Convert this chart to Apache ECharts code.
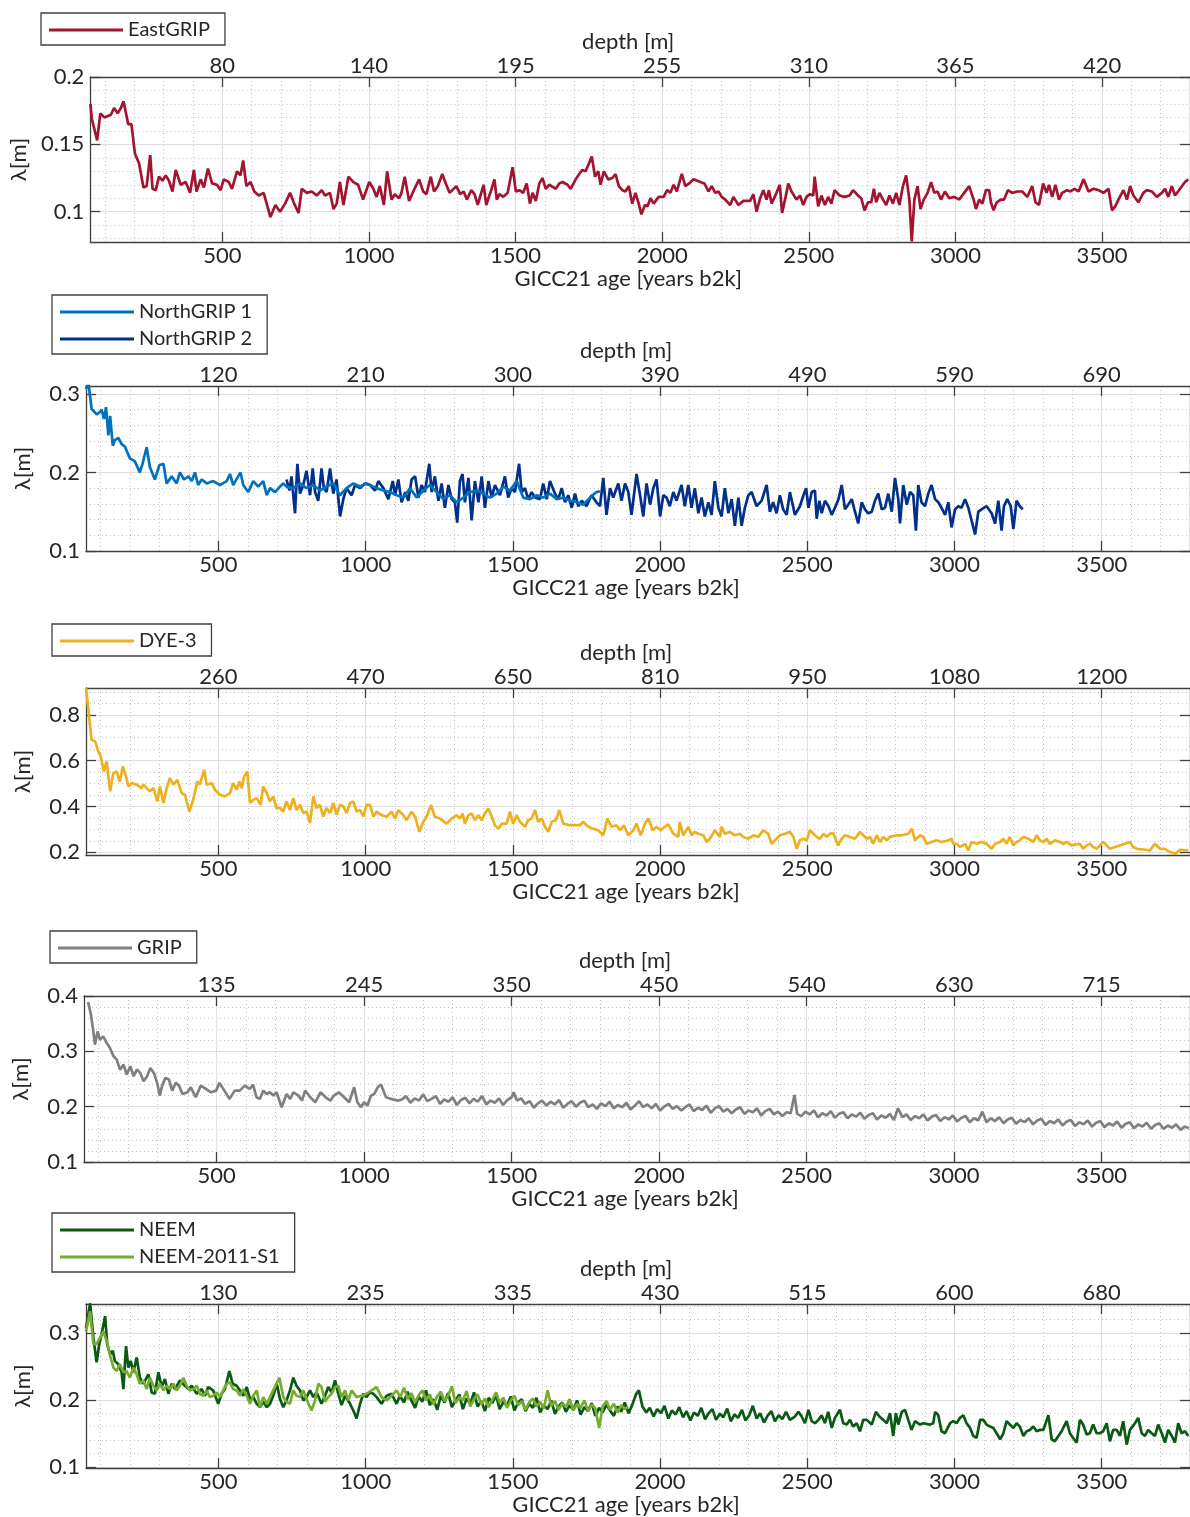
<!DOCTYPE html>
<html>
<head>
<meta charset="utf-8">
<script src="https://cdn.jsdelivr.net/npm/echarts@6/dist/echarts.min.js"></script>
<style>
  html, body { margin: 0; padding: 0; background: #fff; }
  #chart { width: 1190px; height: 1517px; }
</style>
</head>
<body>
<div id="chart"></div>
<script>
// shared age axis (years b2k)
const ageMin = 50
const ageMax = 3800
const ageTicks = [500, 1000, 1500, 2000, 2500, 3000, 3500]
const ageMinor = [100, 200, 300, 400, 600, 700, 800, 900, 1100, 1200, 1300, 1400, 1600, 1700, 1800, 1900,
  2100, 2200, 2300, 2400, 2600, 2700, 2800, 2900, 3100, 3200, 3300, 3400, 3600, 3700, 3800]

// depth labels on the top axis, one per age tick
const depthEastGRIP = ['80', '140', '195', '255', '310', '365', '420']
const depthNorthGRIP = ['120', '210', '300', '390', '490', '590', '690']
const depthDYE3 = ['260', '470', '650', '810', '950', '1080', '1200']
const depthGRIP = ['135', '245', '350', '450', '540', '630', '715']
const depthNEEM = ['130', '235', '335', '430', '515', '600', '680']

// lambda axis ticks
const yTicksEastGRIP = [0.1, 0.15, 0.2]
const yMinorEastGRIP = [0.08, 0.09, 0.11, 0.12, 0.13, 0.14, 0.16, 0.17, 0.18, 0.19]
const yTicksNorthGRIP = [0.1, 0.2, 0.3]
const yMinorNorthGRIP = [0.12, 0.14, 0.16, 0.18, 0.22, 0.24, 0.26, 0.28]
const yTicksDYE3 = [0.2, 0.4, 0.6, 0.8]
const yMinorDYE3 = [0.25, 0.3, 0.35, 0.45, 0.5, 0.55, 0.65, 0.7, 0.75, 0.85, 0.9]
const yTicksGRIP = [0.1, 0.2, 0.3, 0.4]
const yMinorGRIP = [0.12, 0.14, 0.16, 0.18, 0.22, 0.24, 0.26, 0.28, 0.32, 0.34, 0.36, 0.38]
const yTicksNEEM = [0.1, 0.2, 0.3]
const yMinorNEEM = [0.12, 0.14, 0.16, 0.18, 0.22, 0.24, 0.26, 0.28, 0.32, 0.34]

// [age, lambda]
const eastGRIP = [[50,0.180],[55,0.169],[73,0.153],[84,0.173],[98,0.170],[120,0.172],[131,0.177],[143,0.173],[154,0.177],[163,0.182],[179,0.165],[190,0.165],[202,0.143],[216,0.136],[231,0.118],[242,0.119],[254,0.142],[262,0.117],[273,0.116],[284,0.126],[296,0.123],[307,0.127],[318,0.123],[330,0.115],[341,0.131],[358,0.120],[375,0.122],[390,0.114],[403,0.131],[412,0.115],[426,0.124],[437,0.118],[451,0.132],[465,0.121],[482,0.120],[494,0.116],[505,0.124],[522,0.122],[533,0.117],[550,0.130],[562,0.127],[571,0.138],[582,0.119],[596,0.122],[609,0.115],[624,0.112],[641,0.114],[664,0.096],[681,0.105],[697,0.100],[714,0.106],[731,0.114],[745,0.106],[760,0.099],[771,0.117],[788,0.114],[805,0.115],[822,0.112],[839,0.116],[850,0.112],[867,0.114],[879,0.102],[890,0.106],[901,0.122],[913,0.105],[930,0.126],[947,0.122],[963,0.120],[980,0.109],[1001,0.122],
  [1015,0.117],[1026,0.111],[1037,0.119],[1051,0.105],[1062,0.130],[1077,0.109],[1088,0.113],[1103,0.110],[1111,0.114],[1122,0.126],[1137,0.108],[1151,0.115],[1171,0.124],[1185,0.115],[1196,0.113],[1211,0.126],[1222,0.115],[1235,0.119],[1250,0.128],[1262,0.121],[1275,0.114],[1298,0.119],[1311,0.113],[1323,0.115],[1334,0.109],[1349,0.116],[1360,0.113],[1371,0.105],[1391,0.120],[1400,0.105],[1409,0.111],[1417,0.116],[1428,0.124],[1436,0.109],[1445,0.113],[1458,0.111],[1473,0.114],[1490,0.133],[1501,0.115],[1513,0.116],[1526,0.114],[1538,0.121],[1549,0.106],[1558,0.114],[1569,0.108],[1581,0.121],[1592,0.125],[1603,0.117],[1615,0.120],[1637,0.117],[1649,0.121],[1660,0.122],[1677,0.120],[1688,0.117],[1705,0.124],[1717,0.128],[1728,0.131],[1739,0.130],[1760,0.141],[1771,0.126],[1782,0.130],[1790,0.120],[1801,0.130],[1816,0.124],[1830,0.125],[1841,0.128],[1852,0.119],[1864,0.116],[1875,0.115],[1886,0.119],[1898,0.106],[1909,0.114],[1920,0.106],[1929,0.098],[1941,0.105],[1950,0.104],[1960,0.110],[1971,0.106],[1988,0.111],[2005,0.111],[2017,0.116],[2028,0.114],[2039,0.120],[2050,0.115],[2067,0.128],[2079,0.119],[2092,0.121],[2107,0.124],[2130,0.122],[2144,0.121],[2158,0.115],[2169,0.119],[2181,0.114],[2192,0.115],[2203,0.111],[2215,0.109],[2232,0.105],[2243,0.111],[2260,0.105],[2277,0.108],[2300,0.108],[2311,0.113],[2322,0.100],[2334,0.110],[2345,0.116],[2356,0.109],[2364,0.116],[2373,0.106],[2390,0.114],[2401,0.120],[2409,0.099],[2421,0.111],[2430,0.121],
  [2441,0.115],[2458,0.109],[2470,0.112],[2481,0.105],[2492,0.111],[2504,0.113],[2515,0.112],[2520,0.126],[2532,0.104],[2543,0.112],[2555,0.105],[2566,0.111],[2577,0.106],[2588,0.116],[2605,0.112],[2622,0.111],[2639,0.112],[2651,0.116],[2668,0.112],[2679,0.110],[2690,0.101],[2702,0.107],[2713,0.107],[2722,0.117],[2730,0.107],[2741,0.114],[2753,0.109],[2764,0.105],[2775,0.112],[2787,0.106],[2798,0.114],[2809,0.105],[2821,0.119],[2832,0.127],[2843,0.109],[2851,0.078],[2860,0.109],[2871,0.119],[2881,0.102],[2892,0.109],[2905,0.114],[2917,0.122],[2928,0.114],[2939,0.115],[2951,0.109],[2964,0.115],[2979,0.110],[2996,0.111],[3013,0.109],[3030,0.114],[3047,0.119],[3062,0.109],[3070,0.102],[3081,0.109],[3092,0.106],[3104,0.116],[3115,0.116],[3121,0.107],[3130,0.101],[3141,0.107],[3155,0.109],[3166,0.109],[3179,0.116],[3194,0.114],[3211,0.115],[3228,0.115],[3245,0.111],[3262,0.119],[3273,0.107],[3285,0.105],[3299,0.121],[3311,0.114],[3319,0.120],[3330,0.111],[3341,0.120],[3353,0.109],[3364,0.114],[3381,0.116],[3392,0.115],[3406,0.117],[3420,0.115],[3437,0.124],[3454,0.115],[3471,0.117],[3488,0.116],[3505,0.114],[3522,0.117],[3534,0.101],[3545,0.104],[3556,0.109],[3573,0.116],[3585,0.109],[3596,0.119],[3607,0.112],[3624,0.107],[3641,0.114],[3653,0.116],[3670,0.115],[3687,0.111],[3704,0.114],[3715,0.117],[3726,0.111],[3738,0.119],[3749,0.112],[3766,0.117],[3783,0.122],[3794,0.124]]

const northGRIP1 = [[50,0.306],[58,0.315],[69,0.281],[86,0.274],[98,0.277],[103,0.280],[111,0.268],[118,0.283],[126,0.247],[132,0.272],[141,0.234],[148,0.241],[160,0.244],[171,0.236],[182,0.233],[199,0.218],[216,0.214],[233,0.200],[242,0.211],[256,0.232],[267,0.207],[284,0.191],[299,0.209],[313,0.211],[324,0.186],[341,0.195],[358,0.186],[369,0.200],[383,0.191],[398,0.195],[409,0.189],[420,0.200],[431,0.184],[443,0.191],[460,0.186],[482,0.189],[505,0.184],[528,0.189],[539,0.198],[550,0.184],[564,0.193],[575,0.200],[584,0.184],[601,0.175],[618,0.189],[635,0.182],[652,0.189],[664,0.171],[675,0.180],[692,0.175],[709,0.182],[720,0.186],[731,0.182],[754,0.180],[777,0.186],[799,0.180],[822,0.184],[845,0.177],[867,0.182],[890,0.186],[913,0.171],[935,0.180],[958,0.186],[981,0.182],[1003,0.186],
  [1037,0.180],[1060,0.177],[1083,0.175],[1105,0.171],[1128,0.168],[1151,0.180],[1173,0.168],[1196,0.177],[1218,0.184],[1241,0.175],[1264,0.166],[1286,0.171],[1309,0.162],[1332,0.168],[1354,0.175],[1377,0.177],[1400,0.173],[1422,0.168],[1445,0.173],[1468,0.182],[1490,0.177],[1513,0.189],[1535,0.168],[1558,0.166],[1581,0.171],[1603,0.168],[1626,0.173],[1649,0.166],[1671,0.168],[1694,0.164],[1717,0.162],[1739,0.159],[1762,0.168],[1784,0.175],[1796,0.176]]

const northGRIP2 = [[731,0.191],[741,0.177],[748,0.195],[760,0.148],[768,0.211],[777,0.173],[788,0.184],[799,0.202],[811,0.171],[820,0.205],[828,0.175],[839,0.164],[850,0.205],[858,0.180],[867,0.175],[879,0.205],[890,0.173],[901,0.191],[913,0.144],[924,0.166],[935,0.180],[952,0.171],[964,0.184],[981,0.180],[997,0.186],
  [1015,0.184],[1032,0.177],[1043,0.189],[1060,0.180],[1077,0.166],[1092,0.189],[1100,0.171],[1111,0.191],[1122,0.162],[1134,0.175],[1145,0.164],[1156,0.191],[1168,0.195],[1179,0.168],[1190,0.184],[1201,0.175],[1216,0.211],[1224,0.175],[1235,0.195],[1247,0.164],[1258,0.186],[1269,0.155],[1281,0.184],[1292,0.166],[1303,0.162],[1311,0.136],[1320,0.189],[1329,0.198],[1337,0.162],[1349,0.193],[1360,0.139],[1371,0.189],[1383,0.162],[1394,0.195],[1405,0.155],[1417,0.189],[1428,0.168],[1439,0.184],[1456,0.171],[1473,0.195],[1484,0.168],[1496,0.180],[1507,0.175],[1521,0.211],[1530,0.175],[1541,0.180],[1552,0.166],[1564,0.175],[1575,0.168],[1592,0.166],[1603,0.186],[1615,0.166],[1626,0.189],[1643,0.173],[1654,0.166],[1666,0.180],[1677,0.162],[1688,0.171],[1700,0.155],[1711,0.173],[1722,0.157],[1734,0.164],[1750,0.157],[1767,0.171],[1784,0.162],[1796,0.157],[1807,0.193],[1818,0.146],[1830,0.180],[1841,0.168],[1858,0.186],[1869,0.164],[1881,0.186],[1892,0.175],[1903,0.146],[1920,0.198],[1932,0.171],[1943,0.144],[1954,0.186],[1966,0.159],[1977,0.180],[1988,0.191],[2000,0.144],[2011,0.171],[2022,0.168],[2033,0.157],[2045,0.175],[2056,0.164],[2073,0.184],[2084,0.157],[2096,0.184],[2107,0.155],[2118,0.180],[2130,0.148],[2141,0.168],[2152,0.144],[2164,0.162],[2175,0.146],[2186,0.189],[2198,0.155],[2209,0.144],[2220,0.180],[2232,0.148],[2243,0.166],[2254,0.132],[2266,0.168],[2277,0.132],[2288,0.155],[2300,0.171],[2311,0.175],[2328,0.157],[2345,0.164],[2362,0.184],[2373,0.150],[2384,0.162],[2396,0.148],[2407,0.171],[2418,0.153],[2430,0.146],[2441,0.175],[2458,0.146],
  [2475,0.157],[2487,0.171],[2496,0.180],[2504,0.155],[2515,0.175],[2526,0.177],[2532,0.141],[2541,0.164],[2549,0.148],[2560,0.164],[2572,0.157],[2583,0.146],[2594,0.155],[2606,0.166],[2617,0.184],[2628,0.153],[2639,0.159],[2651,0.166],[2662,0.150],[2673,0.135],[2685,0.162],[2696,0.153],[2707,0.148],[2719,0.150],[2730,0.164],[2741,0.173],[2753,0.153],[2764,0.155],[2775,0.173],[2787,0.150],[2798,0.193],[2809,0.166],[2815,0.135],[2826,0.184],[2838,0.159],[2849,0.175],[2860,0.171],[2869,0.126],[2877,0.184],[2888,0.162],[2900,0.157],[2911,0.173],[2922,0.184],[2934,0.166],[2945,0.162],[2956,0.155],[2968,0.146],[2979,0.162],[2990,0.130],[3002,0.153],[3013,0.157],[3024,0.155],[3036,0.166],[3047,0.155],[3058,0.139],[3070,0.121],[3081,0.150],[3092,0.153],[3109,0.157],[3126,0.148],[3138,0.135],[3149,0.164],[3160,0.126],[3168,0.157],[3179,0.166],[3191,0.157],[3200,0.128],[3211,0.164],[3222,0.157],[3232,0.153]]

const dye3 = [[50,0.917],[58,0.822],[69,0.691],[81,0.684],[92,0.640],[100,0.618],[111,0.553],[120,0.597],[132,0.466],[143,0.546],[154,0.553],[165,0.509],[175,0.575],[186,0.531],[194,0.487],[205,0.502],[222,0.495],[239,0.480],[245,0.495],[256,0.480],[267,0.466],[279,0.480],[292,0.422],[301,0.487],[313,0.415],[324,0.480],[335,0.524],[347,0.495],[360,0.516],[375,0.458],[386,0.451],[401,0.378],[414,0.429],[428,0.509],[437,0.495],[451,0.560],[460,0.495],[477,0.502],[488,0.473],[505,0.451],[522,0.444],[539,0.458],[550,0.502],[562,0.473],[571,0.509],[579,0.480],[587,0.531],[598,0.553],[607,0.415],[618,0.429],[630,0.436],[643,0.407],[652,0.487],[664,0.458],[675,0.422],[686,0.444],[697,0.393],[709,0.393],[720,0.378],[731,0.422],[743,0.385],[754,0.436],[765,0.385],[777,0.407],[788,0.371],[799,0.378],[811,0.327],[822,0.444],[833,0.393],[845,0.407],[856,0.356],[867,0.393],[879,0.371],[890,0.415],[901,0.364],[913,0.407],[924,0.400],[935,0.371],[947,0.415],[958,0.422],[969,0.378],[981,0.385],[992,0.356],[1003,0.407],
  [1015,0.406],[1026,0.355],[1037,0.377],[1054,0.362],[1071,0.355],[1088,0.377],[1100,0.347],[1111,0.384],[1128,0.362],[1139,0.340],[1156,0.377],[1168,0.355],[1182,0.289],[1196,0.333],[1207,0.355],[1222,0.406],[1235,0.355],[1252,0.347],[1275,0.325],[1292,0.347],[1309,0.362],[1320,0.347],[1329,0.369],[1337,0.325],[1349,0.362],[1360,0.369],[1371,0.340],[1383,0.362],[1394,0.340],[1405,0.369],[1417,0.391],[1428,0.355],[1439,0.318],[1451,0.303],[1462,0.325],[1479,0.325],[1490,0.377],[1501,0.325],[1513,0.362],[1524,0.333],[1541,0.311],[1552,0.340],[1564,0.347],[1575,0.384],[1586,0.333],[1598,0.347],[1609,0.311],[1620,0.289],[1632,0.333],[1646,0.340],[1658,0.384],[1671,0.325],[1694,0.318],[1711,0.318],[1728,0.318],[1739,0.333],[1756,0.311],[1773,0.303],[1790,0.296],[1807,0.274],[1821,0.347],[1835,0.311],[1852,0.318],[1864,0.296],[1877,0.318],[1892,0.274],[1909,0.296],[1920,0.325],[1934,0.274],[1949,0.325],[1960,0.347],[1975,0.296],[1988,0.311],[2002,0.296],[2016,0.311],[2028,0.322],[2045,0.281],[2062,0.267],[2067,0.333],[2079,0.274],[2096,0.311],[2107,0.274],[2118,0.289],[2130,0.281],[2147,0.274],[2158,0.245],[2169,0.259],[2186,0.296],[2203,0.267],[2209,0.311],[2220,0.281],[2237,0.289],[2254,0.274],[2271,0.281],[2283,0.267],[2300,0.259],[2317,0.274],[2334,0.267],[2350,0.296],[2367,0.281],[2379,0.237],[2390,0.252],[2407,0.274],[2424,0.281],
  [2441,0.289],[2453,0.267],[2464,0.215],[2475,0.252],[2487,0.259],[2498,0.252],[2509,0.296],[2521,0.281],[2532,0.267],[2543,0.259],[2555,0.281],[2566,0.267],[2577,0.281],[2588,0.284],[2605,0.230],[2617,0.259],[2628,0.274],[2645,0.267],[2662,0.259],[2679,0.289],[2690,0.274],[2702,0.259],[2713,0.267],[2724,0.237],[2736,0.274],[2747,0.245],[2758,0.267],[2770,0.252],[2781,0.267],[2804,0.274],[2821,0.274],[2843,0.281],[2855,0.303],[2866,0.252],[2883,0.274],[2894,0.267],[2905,0.237],[2922,0.245],[2939,0.252],[2956,0.245],[2979,0.252],[2990,0.259],[2996,0.237],[3007,0.237],[3019,0.223],[3036,0.237],[3047,0.208],[3058,0.245],[3075,0.237],[3092,0.245],[3109,0.237],[3126,0.215],[3138,0.237],[3155,0.245],[3166,0.259],[3177,0.237],[3188,0.267],[3200,0.230],[3211,0.245],[3222,0.252],[3234,0.267],[3251,0.259],[3268,0.245],[3279,0.274],[3290,0.252],[3302,0.245],[3313,0.259],[3324,0.237],[3341,0.252],[3358,0.245],[3370,0.237],[3381,0.245],[3398,0.230],[3409,0.233],[3426,0.237],[3437,0.215],[3449,0.230],[3460,0.237],[3471,0.223],[3483,0.215],[3494,0.230],[3505,0.245],[3517,0.230],[3528,0.215],[3545,0.223],[3562,0.230],[3579,0.237],[3596,0.245],[3607,0.223],[3619,0.215],[3641,0.212],[3664,0.208],[3681,0.237],[3698,0.215],[3715,0.215],[3732,0.201],[3749,0.193],[3766,0.211],[3783,0.208],[3794,0.208]]

const grip = [[64,0.389],[73,0.368],[81,0.339],[87,0.312],[96,0.336],[104,0.321],[115,0.327],[127,0.315],[138,0.306],[150,0.291],[161,0.285],[172,0.267],[184,0.276],[195,0.258],[207,0.273],[218,0.255],[229,0.267],[241,0.261],[252,0.246],[264,0.255],[275,0.270],[287,0.261],[298,0.243],[307,0.220],[315,0.238],[326,0.252],[338,0.249],[349,0.229],[361,0.243],[372,0.238],[384,0.223],[401,0.226],[412,0.235],[429,0.217],[446,0.238],[463,0.232],[481,0.226],[498,0.229],[509,0.243],[526,0.229],[543,0.214],[561,0.229],[578,0.229],[595,0.238],[612,0.232],[623,0.240],[635,0.217],[646,0.214],[658,0.229],[669,0.223],[680,0.226],[692,0.220],[703,0.226],[720,0.199],[737,0.223],[749,0.214],[760,0.226],[777,0.220],[789,0.211],[800,0.229],[817,0.217],[834,0.208],[852,0.226],[869,0.217],[886,0.211],[897,0.220],[914,0.226],[932,0.217],[949,0.208],[966,0.235],[977,0.208],[989,0.199],[1000,0.208],[1011,0.202],[1023,0.220],[1034,0.223],[1046,0.235],[1057,0.240],[1074,0.217],[1091,0.214],[1114,0.211],
  [1128,0.213],[1142,0.219],[1157,0.207],[1171,0.215],[1186,0.211],[1200,0.222],[1214,0.210],[1228,0.214],[1243,0.219],[1257,0.205],[1271,0.213],[1286,0.209],[1300,0.217],[1314,0.203],[1328,0.212],[1343,0.216],[1357,0.206],[1371,0.214],[1385,0.209],[1400,0.219],[1414,0.204],[1428,0.211],[1443,0.207],[1457,0.215],[1471,0.203],[1485,0.212],[1500,0.217],[1507,0.226],[1518,0.211],[1532,0.215],[1546,0.205],[1561,0.210],[1575,0.198],[1589,0.206],[1603,0.211],[1618,0.202],[1632,0.209],[1646,0.204],[1661,0.212],[1675,0.198],[1689,0.205],[1703,0.210],[1718,0.200],[1732,0.207],[1746,0.211],[1760,0.199],[1775,0.204],[1789,0.196],[1803,0.206],[1818,0.201],[1832,0.209],[1846,0.197],[1860,0.203],[1875,0.199],[1889,0.207],[1903,0.195],[1918,0.202],[1932,0.210],[1946,0.199],[1960,0.204],[1975,0.197],[1989,0.205],[2003,0.193],[2017,0.200],[2032,0.205],[2046,0.196],[2060,0.201],[2075,0.193],[2089,0.199],[2103,0.204],[2117,0.192],[2132,0.198],[2146,0.194],[2160,0.202],[2175,0.189],[2189,0.197],[2203,0.201],[2218,0.191],[2232,0.196],[2246,0.188],[2260,0.195],[2275,0.199],[2289,0.187],[2303,0.193],[2318,0.190],[2332,0.197],[2346,0.184],[2360,0.192],[2375,0.196],[2389,0.186],[2403,0.191],[2418,0.183],[2432,0.190],[2446,0.188],[2459,0.221],[2468,0.187],[2482,0.183],[2496,0.191],[2510,0.186],[2525,0.193],[2539,0.181],[2553,0.188],[2568,0.184],[2582,0.192],[2596,0.180],[2610,0.187],[2625,0.190],[2639,0.179],[2653,0.186],[2668,0.182],[2682,0.189],[2696,0.178],[2710,0.185],[2725,0.188],[2739,0.177],[2753,0.184],[2768,0.180],[2782,0.187],[2796,0.176],[2810,0.197],[2825,0.181],[2839,0.186],[2853,0.176],[2868,0.183],[2882,0.179],[2896,0.186],[2910,0.175],[2925,0.182],[2939,0.185],[2953,0.174],[2968,0.181],[2982,0.177],[2996,0.184],[3010,0.173],[3025,0.180],[3039,0.183],[3053,0.172],[3068,0.179],[3082,0.175],[3096,0.191],[3110,0.172],[3125,0.179],[3139,0.174],[3153,0.181],[3168,0.170],[3182,0.177],[3196,0.180],[3210,0.169],[3225,0.176],[3239,0.172],[3253,0.179],[3268,0.168],[3282,0.175],[3296,0.178],[3310,0.167],[3325,0.174],[3339,0.170],[3353,0.177],[3368,0.166],[3382,0.173],[3396,0.176],[3410,0.165],[3425,0.172],[3439,0.168],[3453,0.175],[3468,0.164],[3482,0.171],[3496,0.174],[3510,0.163],[3525,0.170],[3539,0.166],[3553,0.173],[3568,0.162],[3582,0.169],[3596,0.172],[3610,0.161],[3625,0.168],[3639,0.164],[3653,0.171],[3668,0.160],[3682,0.167],[3696,0.170],[3710,0.160],[3725,0.166],[3739,0.162],[3753,0.168],[3768,0.158],[3782,0.164],[3796,0.161]]

const neem = [[50,0.307],[64,0.344],[75,0.293],[86,0.256],[95,0.283],[103,0.298],[115,0.325],[122,0.283],[132,0.268],[141,0.273],[148,0.258],[160,0.253],[171,0.241],[177,0.216],[186,0.280],[194,0.248],[202,0.258],[211,0.241],[222,0.263],[233,0.233],[245,0.224],[262,0.238],[273,0.211],[284,0.209],[296,0.241],[307,0.219],[318,0.231],[330,0.209],[341,0.224],[352,0.216],[369,0.229],[386,0.221],[398,0.216],[409,0.221],[426,0.209],[443,0.216],[454,0.206],[465,0.219],[482,0.214],[499,0.194],[511,0.209],[522,0.216],[537,0.243],[548,0.224],[562,0.221],[573,0.214],[584,0.206],[596,0.219],[607,0.201],[618,0.204],[630,0.194],[641,0.189],[652,0.197],[664,0.189],[675,0.194],[686,0.206],[698,0.224],[709,0.201],[720,0.189],[731,0.199],[743,0.214],[754,0.233],[765,0.221],[777,0.214],[788,0.199],[799,0.204],[811,0.214],[822,0.204],[833,0.211],[850,0.194],[862,0.206],[873,0.219],[884,0.211],[896,0.229],[907,0.209],[918,0.192],[930,0.206],[947,0.194],[958,0.184],[969,0.172],[981,0.194],[992,0.209],[1003,0.204],[1014,0.211],[1026,0.209],[1037,0.204],[1054,0.194],[1071,0.206],[1088,0.209],[1105,0.194],[1116,0.206],
  [1130,0.196],[1142,0.212],[1155,0.199],[1168,0.188],[1180,0.205],[1192,0.197],[1205,0.214],[1218,0.192],[1230,0.201],[1243,0.185],[1255,0.206],[1268,0.196],[1280,0.210],[1293,0.189],[1305,0.199],[1318,0.208],[1330,0.186],[1343,0.202],[1355,0.194],[1368,0.211],[1380,0.190],[1393,0.198],[1405,0.183],[1418,0.203],[1430,0.195],[1443,0.207],[1455,0.186],[1468,0.197],[1480,0.191],[1493,0.205],[1505,0.184],[1518,0.196],[1530,0.201],[1543,0.183],[1555,0.194],[1568,0.188],[1580,0.203],[1593,0.181],[1605,0.192],[1618,0.186],[1630,0.199],[1643,0.179],[1655,0.190],[1668,0.196],[1680,0.182],[1693,0.192],[1705,0.185],[1718,0.199],[1730,0.178],[1743,0.189],[1755,0.183],[1768,0.195],[1780,0.176],[1793,0.188],[1805,0.181],[1818,0.193],[1830,0.184],[1843,0.176],[1855,0.190],[1868,0.182],[1880,0.196],[1893,0.180],[1905,0.192],[1918,0.208],[1928,0.214],[1940,0.190],[1953,0.181],[1965,0.188],[1978,0.175],[1990,0.186],[2003,0.180],[2015,0.191],[2028,0.172],[2040,0.184],[2053,0.178],[2065,0.189],[2078,0.174],[2090,0.183],[2103,0.169],[2115,0.181],[2128,0.176],[2140,0.188],[2153,0.171],[2165,0.180],[2178,0.186],[2190,0.170],[2203,0.179],[2215,0.174],[2228,0.187],[2240,0.168],[2253,0.178],[2265,0.173],[2278,0.185],[2290,0.169],[2303,0.177],[2315,0.191],[2328,0.172],[2340,0.180],[2353,0.166],[2365,0.176],[2378,0.183],[2390,0.168],[2403,0.177],[2415,0.171],[2428,0.182],
  [2441,0.170],[2458,0.175],[2470,0.182],[2481,0.175],[2492,0.165],[2504,0.185],[2515,0.168],[2526,0.165],[2538,0.170],[2549,0.177],[2560,0.165],[2571,0.182],[2583,0.158],[2594,0.173],[2611,0.185],[2622,0.165],[2634,0.163],[2645,0.170],[2656,0.160],[2668,0.165],[2679,0.153],[2690,0.170],[2702,0.170],[2719,0.163],[2733,0.182],[2745,0.175],[2758,0.170],[2770,0.165],[2781,0.180],[2792,0.146],[2801,0.180],[2809,0.163],[2821,0.182],[2832,0.185],[2843,0.170],[2854,0.155],[2866,0.168],[2883,0.163],[2894,0.165],[2917,0.163],[2928,0.165],[2934,0.182],[2945,0.177],[2956,0.153],[2968,0.150],[2985,0.165],[2996,0.168],[3007,0.165],[3019,0.173],[3030,0.177],[3041,0.165],[3053,0.158],[3064,0.146],[3075,0.143],[3087,0.170],[3098,0.170],[3109,0.163],[3121,0.160],[3132,0.158],[3143,0.150],[3155,0.141],[3166,0.150],[3177,0.168],[3188,0.163],[3200,0.158],[3211,0.165],[3222,0.160],[3234,0.146],[3245,0.153],[3256,0.155],[3268,0.160],[3279,0.153],[3290,0.155],[3302,0.155],[3319,0.177],[3330,0.141],[3341,0.138],[3353,0.146],[3364,0.153],[3375,0.163],[3381,0.168],[3392,0.150],[3403,0.143],[3415,0.136],[3426,0.170],[3437,0.163],[3449,0.148],[3460,0.150],[3471,0.163],[3483,0.150],[3494,0.150],[3505,0.153],[3517,0.165],[3528,0.138],[3539,0.155],[3551,0.155],[3562,0.146],[3573,0.168],[3585,0.133],[3596,0.155],[3613,0.165],[3624,0.173],[3636,0.150],[3647,0.146],[3658,0.155],[3670,0.150],[3681,0.146],[3692,0.163],[3704,0.150],[3715,0.136],[3726,0.155],[3738,0.146],[3749,0.136],[3760,0.165],[3771,0.150],[3783,0.153],[3794,0.146]]

const neemS1 = [[50,0.302],[64,0.332],[75,0.283],[86,0.283],[98,0.293],[109,0.302],[120,0.288],[132,0.266],[143,0.248],[154,0.243],[165,0.253],[177,0.241],[188,0.243],[199,0.233],[211,0.248],[222,0.238],[233,0.224],[245,0.229],[256,0.216],[267,0.233],[279,0.221],[290,0.214],[301,0.224],[313,0.214],[324,0.221],[335,0.216],[347,0.224],[358,0.214],[369,0.221],[381,0.233],[392,0.221],[403,0.214],[415,0.216],[426,0.221],[437,0.209],[448,0.206],[460,0.214],[471,0.204],[482,0.206],[494,0.211],[505,0.204],[516,0.214],[528,0.224],[539,0.226],[550,0.216],[562,0.214],[573,0.206],[584,0.216],[596,0.206],[607,0.194],[618,0.206],[630,0.214],[641,0.189],[652,0.204],[664,0.194],[675,0.204],[686,0.214],[707,0.233],[720,0.204],[731,0.197],[743,0.194],[754,0.214],[765,0.206],[777,0.204],[788,0.214],[799,0.201],[816,0.184],[828,0.199],[839,0.224],[850,0.219],[862,0.197],[873,0.204],[884,0.209],[896,0.219],[907,0.221],[918,0.204],[930,0.214],[941,0.199],[952,0.214],[969,0.204],[986,0.206],[1003,0.209],[1020,0.214],[1037,0.219],[1054,0.204],[1071,0.199],[1088,0.206],[1105,0.214],
  [1118,0.204],[1130,0.218],[1143,0.201],[1155,0.210],[1168,0.196],[1180,0.207],[1193,0.214],[1205,0.199],[1218,0.208],[1230,0.193],[1243,0.205],[1255,0.212],[1268,0.198],[1280,0.206],[1293,0.220],[1305,0.195],[1318,0.204],[1330,0.199],[1343,0.213],[1355,0.190],[1368,0.201],[1380,0.208],[1393,0.193],[1405,0.202],[1418,0.189],[1430,0.200],[1443,0.211],[1455,0.196],[1468,0.203],[1480,0.188],[1493,0.199],[1505,0.206],[1518,0.192],[1530,0.198],[1543,0.185],[1555,0.196],[1568,0.202],[1580,0.190],[1593,0.197],[1605,0.187],[1618,0.214],[1630,0.191],[1643,0.198],[1655,0.185],[1668,0.195],[1680,0.189],[1693,0.201],[1705,0.184],[1718,0.194],[1730,0.188],[1743,0.199],[1755,0.183],[1768,0.193],[1780,0.187],[1793,0.158],[1805,0.190],[1818,0.198],[1830,0.185],[1843,0.194],[1855,0.181],[1868,0.192],[1880,0.186],[1891,0.190]]

const labelColor = '#262626'
const axisColor = '#404040'
const font = 'Lato'

const panels = [
  { top: 77, height: 165, left: 86, yMin: 0.0775, yMax: 0.2, yTicks: yTicksEastGRIP, yMinor: yMinorEastGRIP, depth: depthEastGRIP,
    legend: { left: 41, top: 13, names: ['EastGRIP'] },
    series: [{ name: 'EastGRIP', data: eastGRIP, color: '#A2142F' }] },
  { top: 386, height: 165, left: 86, yMin: 0.1, yMax: 0.31, yTicks: yTicksNorthGRIP, yMinor: yMinorNorthGRIP, depth: depthNorthGRIP,
    legend: { left: 52, top: 295, names: ['NorthGRIP 1', 'NorthGRIP 2'] },
    series: [{ name: 'NorthGRIP 2', data: northGRIP2, color: '#003087' }, { name: 'NorthGRIP 1', data: northGRIP1, color: '#0072BD' }] },
  { top: 688, height: 167, left: 86, yMin: 0.188, yMax: 0.917, yTicks: yTicksDYE3, yMinor: yMinorDYE3, depth: depthDYE3,
    legend: { left: 52, top: 624, names: ['DYE-3'] },
    series: [{ name: 'DYE-3', data: dye3, color: '#EDB120' }] },
  { top: 996, height: 166, left: 84, yMin: 0.1, yMax: 0.4, yTicks: yTicksGRIP, yMinor: yMinorGRIP, depth: depthGRIP,
    legend: { left: 50, top: 931, names: ['GRIP'] },
    series: [{ name: 'GRIP', data: grip, color: '#808080' }] },
  { top: 1304, height: 166, left: 86, yMin: 0.098, yMax: 0.343, yTicks: yTicksNEEM, yMinor: yMinorNEEM, depth: depthNEEM,
    legend: { left: 52, top: 1213, names: ['NEEM', 'NEEM-2011-S1'] },
    series: [{ name: 'NEEM', data: neem, color: '#0A5A14' }, { name: 'NEEM-2011-S1', data: neemS1, color: '#77AC30' }] }
]

const chart = echarts.init(document.getElementById('chart'), null, { renderer: 'canvas' })

const grid = []
const xAxis = []
const yAxis = []
const series = []
const legend = []

const majorLine = { show: true, lineStyle: { color: '#dedede', width: 1, type: 'solid' } }
const minorLine = { show: true, lineStyle: { color: '#c4c4c4', width: 1, type: [1, 3] } }
const nameStyle = { fontSize: 22, color: labelColor, fontFamily: font }
const tickLabel = { fontSize: 22, color: labelColor, fontFamily: font }

panels.forEach((p, i) => {
  // right border sits just past the page edge, like the cropped original
  grid.push({ left: p.left, top: p.top, height: p.height, right: -3 })

  // bottom: age axis
  xAxis.push({
    gridIndex: i, type: 'value', position: 'bottom', min: ageMin, max: ageMax,
    name: 'GICC21 age [years b2k]', nameLocation: 'middle', nameGap: 23,
    nameTextStyle: Object.assign({ padding: [0, 24, 0, 0] }, nameStyle),
    axisLine: { show: true, lineStyle: { color: axisColor, width: 1.3 } },
    axisTick: { show: true, inside: true, length: 10, customValues: ageTicks, lineStyle: { color: axisColor, width: 1.3 } },
    axisLabel: Object.assign({ customValues: ageTicks, margin: 3, formatter: v => String(v) }, tickLabel),
    splitLine: Object.assign({ customValues: ageTicks }, majorLine)
  })
  // top: depth axis
  const depth = p.depth
  xAxis.push({
    gridIndex: i, type: 'value', position: 'top', min: ageMin, max: ageMax,
    name: 'depth [m]', nameLocation: 'middle', nameGap: 24,
    nameTextStyle: Object.assign({ padding: [0, 24, 0, 0] }, nameStyle),
    axisLine: { show: true, lineStyle: { color: axisColor, width: 1.3 } },
    axisTick: { show: true, inside: true, length: 10, customValues: ageTicks, lineStyle: { color: axisColor, width: 1.3 } },
    axisLabel: Object.assign({ customValues: ageTicks, margin: 0, formatter: v => depth[ageTicks.indexOf(v)] }, tickLabel),
    splitLine: { show: false }
  })
  // minor vertical grid
  xAxis.push({
    gridIndex: i, type: 'value', position: 'bottom', min: ageMin, max: ageMax,
    axisLine: { show: false }, axisLabel: { show: false },
    axisTick: { show: false, customValues: ageMinor },
    splitLine: Object.assign({ customValues: ageMinor }, minorLine)
  })

  yAxis.push({
    gridIndex: i, type: 'value', position: 'left', min: p.yMin, max: p.yMax,
    name: 'λ[m]', nameLocation: 'middle', nameGap: 52,
    nameTextStyle: nameStyle,
    axisLine: { show: true, lineStyle: { color: axisColor, width: 1.3 } },
    axisTick: { show: true, inside: true, length: 10, customValues: p.yTicks, lineStyle: { color: axisColor, width: 1.3 } },
    axisLabel: Object.assign({ customValues: p.yTicks, margin: 6 }, tickLabel),
    splitLine: Object.assign({ customValues: p.yTicks }, majorLine)
  })
  yAxis.push({
    gridIndex: i, type: 'value', position: 'right', min: p.yMin, max: p.yMax,
    axisLine: { show: true, lineStyle: { color: axisColor, width: 1.3 } },
    axisTick: { show: true, inside: true, length: 10, customValues: p.yTicks, lineStyle: { color: axisColor, width: 1.3 } },
    axisLabel: { show: false },
    splitLine: { show: false }
  })
  yAxis.push({
    gridIndex: i, type: 'value', position: 'left', min: p.yMin, max: p.yMax,
    axisLine: { show: false }, axisLabel: { show: false },
    axisTick: { show: false, customValues: p.yMinor },
    splitLine: Object.assign({ customValues: p.yMinor }, minorLine)
  })

  p.series.forEach(s => {
    series.push({
      name: s.name, type: 'line', data: s.data,
      xAxisIndex: i * 3, yAxisIndex: i * 3,
      symbol: 'none', showSymbol: false, clip: true,
      lineStyle: { color: s.color, width: 2.7 },
      itemStyle: { color: s.color },
      z: 3
    })
  })

  legend.push({
    left: p.legend.left, top: p.legend.top, orient: 'vertical',
    data: p.legend.names, icon: 'rect',
    padding: [7, 15, 5, 8], itemGap: 7, itemWidth: 74, itemHeight: 3,
    borderColor: axisColor, borderWidth: 1.3, backgroundColor: '#fff',
    textStyle: { fontSize: 20, color: labelColor, fontFamily: font },
    selectedMode: false
  })
})

chart.setOption({
  animation: false,
  backgroundColor: '#fff',
  grid,
  xAxis,
  yAxis,
  legend,
  series
})
</script>
</body>
</html>
